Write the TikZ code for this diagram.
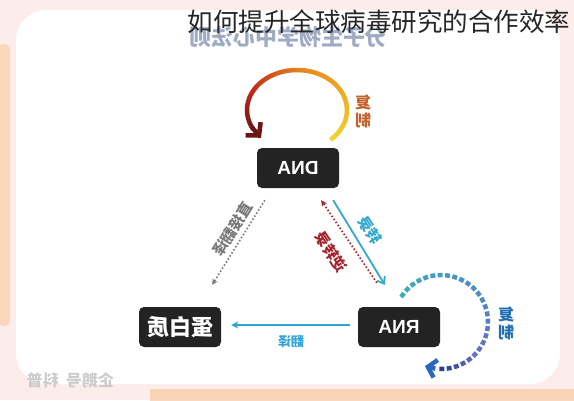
\documentclass[tikz,border=0pt]{standalone}
\usepackage{fontspec}
\setmainfont{Liberation Sans}
\newfontfamily\cjk{Noto Sans CJK SC}
\usetikzlibrary{arrows.meta,calc}
\definecolor{boxc}{HTML}{232323}
\definecolor{dnayel}{HTML}{F2D42A}
\definecolor{dnaor}{HTML}{E8891F}
\definecolor{dnared}{HTML}{C0281A}
\definecolor{dnadark}{HTML}{6E1414}
\definecolor{fuzhiO}{HTML}{C4622D}
\definecolor{blueA}{HTML}{2FA3D6}
\definecolor{cyanA}{HTML}{33A9CC}
\definecolor{redA}{HTML}{A3232D}
\definecolor{greyA}{HTML}{7A7A7A}
\definecolor{rnateal}{HTML}{3AB0B4}
\definecolor{rnablue}{HTML}{4A8ECC}
\definecolor{rnaperi}{HTML}{6672BE}
\definecolor{rnanavy}{HTML}{26408E}
\definecolor{rnaarrow}{HTML}{2A68C0}
\definecolor{fuzhiB}{HTML}{1F6FB2}
\definecolor{ghost}{HTML}{8090B0}
\definecolor{framepink}{HTML}{FDEDEA}
\definecolor{frameor}{HTML}{F8C8A0}
\newcommand{\mirtxt}[1]{\scalebox{-1}[1]{#1}}
\begin{document}
\begin{tikzpicture}[x=1pt,y=-1pt,
  box/.style={fill=boxc, rounded corners=5pt, minimum width=82pt, minimum height=40pt,
    text=white, inner sep=0pt, font=\bfseries\fontsize{19}{19}\selectfont},
  lbl/.style={inner sep=0pt, font=\cjk\bfseries\fontsize{15}{15}\selectfont},
  vlbl/.style={inner sep=0pt, align=center, font=\cjk\bfseries\fontsize{16}{18}\selectfont},
  seg/.style={line width=4.5pt},
  sq/.style={line width=4.5pt}]
\useasboundingbox (0,0) rectangle (574,400);
% frame
\fill[framepink] (0,0) rectangle (574,400);
\fill[white, rounded corners=30pt] (16,10) rectangle (560,384);
\draw[frameor, line width=12pt, opacity=.6, line cap=round] (4,50) -- (4,320);
\draw[frameor, line width=12pt, opacity=.7] (150,395) -- (574,395);
% ghost title
\node[inner sep=0pt, text=ghost, opacity=.75, font=\cjk\bfseries\fontsize{22}{22}\selectfont] (ghostT) at (288,37) {\mirtxt{分子生物学中心法则}};
% overlay title
\node[inner sep=0pt, text=black!85, font=\cjk\fontsize{25.5}{25.5}\selectfont] (title) at (379,22) {如何提升全球病毒研究的合作效率};
% watermark
\node[inner sep=0pt, text=black!20, font=\cjk\bfseries\fontsize{16}{16}\selectfont] (wm) at (72,380) {\mirtxt{\ 企鹅号\ \ 科普}};
% DNA loop (gradient)
\foreach \a in {-48,-44,...,76}{
  \pgfmathsetmacro\p{(\a+48)/128*100}
  \draw[seg, color=dnaor!\p!dnayel] ({297+50*cos(\a)},{110-40*sin(\a)}) -- ({297+50*cos(\a+4.6)},{110-40*sin(\a+4.6)});
}
\foreach \a in {80,84,...,148}{
  \pgfmathsetmacro\p{(\a-80)/70*100}
  \draw[seg, color=dnared!\p!dnaor] ({297+50*cos(\a)},{110-40*sin(\a)}) -- ({297+50*cos(\a+4.6)},{110-40*sin(\a+4.6)});
}
\foreach \a in {152,156,...,204}{
  \pgfmathsetmacro\p{(\a-152)/56*100}
  \draw[seg, color=dnadark!\p!dnared] ({297+50*cos(\a)},{110-40*sin(\a)}) -- ({297+50*cos(\a+4.6)},{110-40*sin(\a+4.6)});
}
\draw[seg, color=dnadark, -{Straight Barb[length=9pt,width=20pt]}] ({297+50*cos(206)},{110-40*sin(206)}) -- ({297+50*cos(224)},{110-40*sin(224)});
% RNA loop (square dashes)
\foreach \a in {145,136,...,55}{
  \pgfmathsetmacro\p{(145-\a)/90*100}
  \draw[sq, color=rnablue!\p!rnateal] ({441+47*cos(\a+3)},{322-47*sin(\a+3)}) -- ({441+47*cos(\a-3)},{322-47*sin(\a-3)});
}
\foreach \a in {46,37,...,-35}{
  \pgfmathsetmacro\p{(46-\a)/81*100}
  \draw[sq, color=rnaperi!\p!rnablue] ({441+47*cos(\a+3)},{322-47*sin(\a+3)}) -- ({441+47*cos(\a-3)},{322-47*sin(\a-3)});
}
\foreach \a in {-44,-53,...,-89}{
  \pgfmathsetmacro\p{(-44-\a)/45*100}
  \draw[sq, color=rnanavy!\p!rnaperi] ({441+47*cos(\a+3)},{322-47*sin(\a+3)}) -- ({441+47*cos(\a-3)},{322-47*sin(\a-3)});
}
\draw[seg, color=rnaarrow, -{Straight Barb[length=8pt,width=18pt]}] ({441+47*cos(-97)},{322-47*sin(-97)}) -- ({441+47*cos(-110)},{322-47*sin(-110)});
% boxes
\node[box] (dna) at (298,168) {\mirtxt{DNA}};
\node[box, font=\cjk\bfseries\fontsize{22}{22}\selectfont] (prot) at (180,327) {\mirtxt{蛋白质}};
\node[box] (rna) at (399,327) {\mirtxt{RNA}};
% replication labels
\node[vlbl, text=fuzhiO] (rep1) at (363,111) {\mirtxt{复}\\\mirtxt{制}};
\node[vlbl, text=fuzhiB] (rep2) at (506,323) {\mirtxt{复}\\\mirtxt{制}};
% connectors
\draw[blueA, line width=1.8pt, -{Stealth[length=7pt,width=7pt]}] ($(rna.west)+(-8,-2)$) -- ($(prot.east)+(10,-2)$);
\draw[greyA, line width=1.6pt, dotted, -{Stealth[length=6pt,width=6pt]}] ($(dna.south west)+(8,12)$) -- ($(prot.north east)+(-9,-22)$);
\draw[redA, line width=1.6pt, dotted, -{Stealth[length=6pt,width=6pt]}] ($(rna.north west)+(19,-24)$) -- ($(dna.south east)+(-18,12)$);
\draw[cyanA, line width=1.8pt, -{Straight Barb[length=6pt,width=9pt]}] ($(dna.south east)+(-6,12)$) -- ($(rna.north west)+(27,-22)$);
% connector labels
\node[lbl, text=greyA, rotate=58] (l1) at (233,229) {\mirtxt{直接翻译}};
\node[lbl, text=redA, rotate=-56] (l2) at (331,252) {\mirtxt{逆转录}};
\node[lbl, text=cyanA, rotate=-56] (l3) at (370,230) {\mirtxt{转录}};
\node[lbl, text=blueA, font=\cjk\bfseries\fontsize{13}{13}\selectfont] (l4) at (291,342) {\mirtxt{翻译}};
\end{tikzpicture}
\end{document}
